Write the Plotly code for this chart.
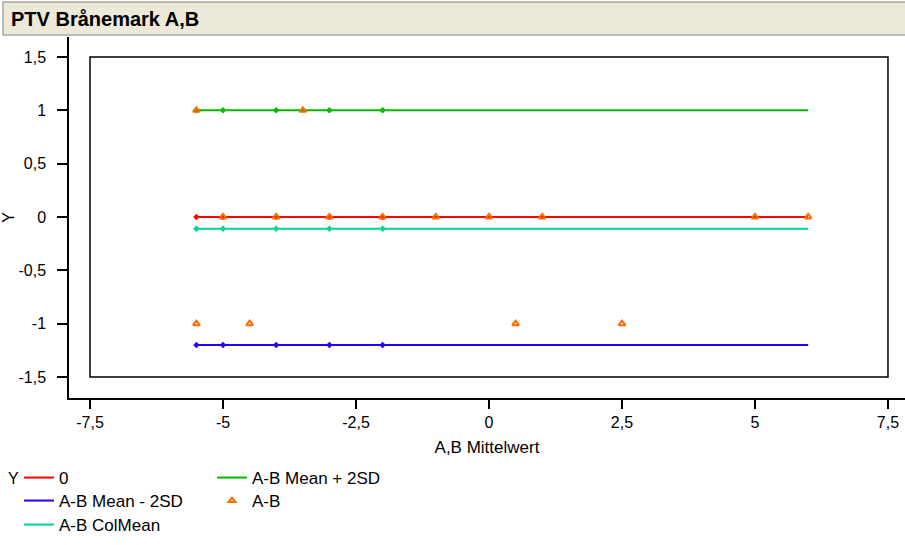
import plotly.graph_objects as go

# ---- data ----
line_x = [-5.5, -5, -4, -3, -2, 6]
zero_y = [0, 0, 0, 0, 0, 0]
upper_y = [1.0, 1.0, 1.0, 1.0, 1.0, 1.0]
lower_y = [-1.2, -1.2, -1.2, -1.2, -1.2, -1.2]
mean_y = [-0.11, -0.11, -0.11, -0.11, -0.11, -0.11]
marker_x = [-5.5, -5, -4, -3, -2]

ab_x = [-5, -4, -3, -2, -1, 0, 1, 5, 6, -5.5, -3.5, -5.5, -4.5, 0.5, 2.5]
ab_y = [0, 0, 0, 0, 0, 0, 0, 0, 0, 1, 1, -1, -1, -1, -1]

x_ticks = [-7.5, -5, -2.5, 0, 2.5, 5, 7.5]
x_tick_text = ["-7,5", "-5", "-2,5", "0", "2,5", "5", "7,5"]
y_ticks = [-1.5, -1, -0.5, 0, 0.5, 1, 1.5]
y_tick_text = ["-1,5", "-1", "-0,5", "0", "0,5", "1", "1,5"]

RED = "#FF0000"
GREEN = "#00B800"
BLUE = "#2200FF"
TEAL = "#00D68C"
ORANGE = "#FF6A00"
FONT = "Liberation Sans, Arial, sans-serif"

fig = go.Figure()

def add_line(name, ys, color, legend):
    fig.add_trace(go.Scatter(x=line_x, y=ys, mode="lines", name=name,
                             line=dict(color=color, width=2), legend=legend))
    fig.add_trace(go.Scatter(x=marker_x, y=ys[:len(marker_x)], mode="markers",
                             marker=dict(symbol="diamond", size=5, color=color),
                             showlegend=False, hoverinfo="skip"))

add_line("0", zero_y, RED, "legend")
add_line("A-B Mean + 2SD", upper_y, GREEN, "legend")
add_line("A-B Mean - 2SD", lower_y, BLUE, "legend2")
add_line("A-B ColMean", mean_y, TEAL, "legend3")

fig.add_trace(go.Scatter(x=ab_x, y=ab_y, mode="markers", name="A-B",
                         marker=dict(symbol="triangle-up-open", size=6,
                                     color=ORANGE, line=dict(width=2, color=ORANGE)),
                         legend="legend2"))

# inner frame box
fig.add_shape(type="rect", xref="x", yref="y", x0=-7.5, x1=7.5, y0=-1.5, y1=1.5,
              line=dict(color="black", width=1.5), layer="below")

# title bar
fig.add_shape(type="rect", xref="paper", yref="paper",
              x0=-66/836, x1=1.01, y0=1 + 2/361, y1=1 + 35/361,
              fillcolor="#ECE9D8", line=dict(color="#A8A8A0", width=1.5))
fig.add_annotation(text="<b>PTV Brånemark A,B</b>", xref="paper", yref="paper",
                   x=-60/836, y=1 + 18/361, xanchor="left", yanchor="middle",
                   showarrow=False, font=dict(family=FONT, size=20, color="black"))

# legend label "Y"
fig.add_annotation(text="Y", xref="paper", yref="paper", x=-63/836, y=(398 - 478) / 361,
                   xanchor="left", yanchor="middle", showarrow=False,
                   font=dict(family=FONT, size=16, color="black"))

leg_common = dict(orientation="h", xanchor="left", yanchor="middle",
                  entrywidth=148, entrywidthmode="pixels",
                  font=dict(family=FONT, size=17, color="black"),
                  bgcolor="rgba(0,0,0,0)", tracegroupgap=0)

fig.update_layout(
    width=905, height=545,
    margin=dict(l=69, r=0, t=37, b=147, autoexpand=False),
    paper_bgcolor="white", plot_bgcolor="white",
    font=dict(family=FONT, size=16, color="black"),
    xaxis=dict(range=[-7.895, 7.82], tickvals=x_ticks, ticktext=x_tick_text,
               ticks="outside", ticklen=9, automargin=False,
               tickwidth=1.5, tickcolor="black", showline=True, linecolor="black",
               linewidth=1.5, showgrid=False, zeroline=False, mirror=False,
               title=dict(text="A,B Mittelwert", font=dict(size=17), standoff=11),
               tickfont=dict(size=16)),
    yaxis=dict(range=[-1.697, 1.687], tickvals=y_ticks, ticktext=y_tick_text,
               ticks="outside", ticklen=10, ticklabelstandoff=8, automargin=False,
               tickwidth=1.5, tickcolor="black", showline=True, linecolor="black",
               linewidth=1.5, showgrid=False, zeroline=False, mirror=False,
               title=dict(text="Y", font=dict(size=16), standoff=8),
               tickfont=dict(size=16)),
    legend=dict(x=-50/836, y=(398 - 478) / 361, **leg_common),
    legend2=dict(x=-50/836, y=(398 - 501) / 361, **leg_common),
    legend3=dict(x=-50/836, y=(398 - 525) / 361, **leg_common),
)

fig.write_html("out.html")
